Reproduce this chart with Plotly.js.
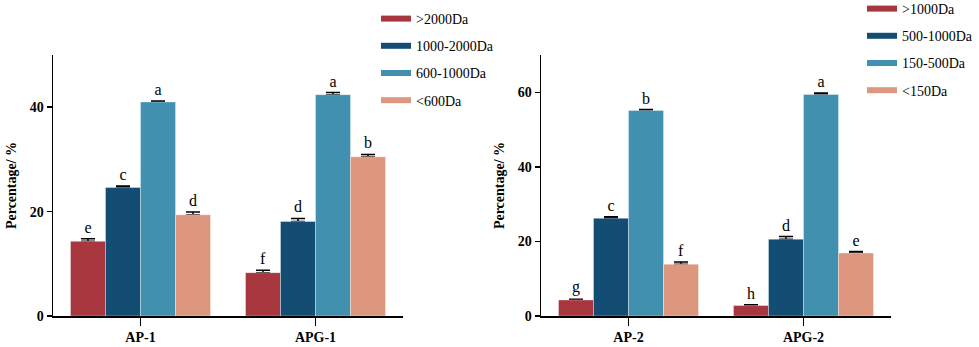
<!DOCTYPE html>
<html>
<head>
<meta charset="utf-8">
<script src="https://cdn.plot.ly/plotly-3.0.1.min.js"></script>
<style>html,body{margin:0;padding:0;background:#fff;}#chart{width:979px;height:347px;}</style>
</head>
<body>
<div id="chart"></div>
<script>
// ---- data ----
const categories1 = ['AP-1', 'APG-1'];
const categories2 = ['AP-2', 'APG-2'];
const seriesNames1 = ['>2000Da', '1000-2000Da', '600-1000Da', '<600Da'];
const seriesNames2 = ['>1000Da', '500-1000Da', '150-500Da', '<150Da'];
const values1 = [[14.3, 8.3], [24.6, 18.1], [41.0, 42.4], [19.4, 30.5]];
const errors1 = [[0.5, 0.45], [0.3, 0.6], [0.2, 0.4], [0.5, 0.45]];
const letters1 = [['e', 'f'], ['c', 'd'], ['a', 'a'], ['d', 'b']];
const values2 = [[4.3, 2.8], [26.2, 20.6], [55.1, 59.4], [13.9, 16.9]];
const errors2 = [[0.2, 0.25], [0.4, 0.7], [0.25, 0.4], [0.6, 0.4]];
const letters2 = [['g', 'h'], ['c', 'd'], ['b', 'a'], ['f', 'e']];
const yTicks1 = [0, 20, 40];
const yTicks2 = [0, 20, 40, 60];

// ---- styles ----
const colors = ['#A8363F', '#134D73', '#4190B0', '#DE977F'];
const serif = 'Liberation Serif, Times New Roman, serif';

const traces = [];
function addPanel(cats, names, vals, errs, lets, xa, ya, legendId, prefix) {
  names.forEach((nm, i) => {
    // error bars (drawn first, partly hidden under the bar)
    traces.push({
      type: 'bar', x: cats, y: vals[i], xaxis: xa, yaxis: ya,
      offsetgroup: prefix + i, showlegend: false, hoverinfo: 'skip',
      marker: { color: 'rgba(0,0,0,0)' },
      error_y: { type: 'data', symmetric: false, array: errs[i], arrayminus: errs[i].map(() => 0),
                 visible: true, color: '#000', thickness: 1.5, width: 7 }
    });
    traces.push({
      type: 'bar', x: cats, y: vals[i], xaxis: xa, yaxis: ya,
      offsetgroup: prefix + i, showlegend: false, hoverinfo: 'skip',
      marker: { color: colors[i], line: { color: 'rgba(255,255,255,0.35)', width: 1 } }
    });
    traces.push({
      type: 'bar', x: cats, y: vals[i].map((v, k) => v + errs[i][k]), xaxis: xa, yaxis: ya,
      offsetgroup: prefix + i, showlegend: false, hoverinfo: 'skip',
      marker: { color: 'rgba(0,0,0,0)', line: { color: 'rgba(0,0,0,0)', width: 6 } },
      text: lets[i], textposition: 'outside', cliponaxis: false,
      textfont: { family: serif, size: 16, color: '#000' }
    });
    traces.push({
      type: 'scatter', mode: 'lines', x: [null], y: [null], xaxis: xa, yaxis: ya,
      name: nm, legend: legendId, legendgroup: prefix + 'g' + i,
      line: { color: colors[i], width: 6 }
    });
  });
}
addPanel(categories1, seriesNames1, values1, errors1, letters1, 'x', 'y', 'legend', 'a');
addPanel(categories2, seriesNames2, values2, errors2, letters2, 'x2', 'y2', 'legend2', 'b');

const yDomain = [31 / 347, 292 / 347];
function xAxis(domain, anchor) {
  return {
    domain: domain, anchor: anchor, type: 'category', range: [-0.5, 1.5],
    showline: true, linecolor: '#000', linewidth: 1.5, ticks: 'outside', ticklen: 8,
    tickwidth: 1.5, tickcolor: '#000', showgrid: false, zeroline: false,
    tickfont: { family: serif, size: 14, color: '#000', weight: 'bold' }, automargin: false
  };
}
function yAxis(anchor, range, ticks) {
  return {
    domain: yDomain, anchor: anchor, range: range, tickvals: ticks,
    showline: true, linecolor: '#000', linewidth: 1.5, ticks: 'outside', ticklen: 5,
    tickwidth: 1.5, tickcolor: '#000', showgrid: false, zeroline: false,
    tickfont: { family: serif, size: 14, color: '#000', weight: 'bold' },
    title: { text: 'Percentage/ %', font: { family: serif, size: 14, color: '#000', weight: 'bold' }, standoff: 10 },
    automargin: false
  };
}
const legendBase = {
  font: { family: serif, size: 14, color: '#000' }, bgcolor: 'rgba(0,0,0,0)',
  traceorder: 'grouped', tracegroupgap: 6, xanchor: 'left', yanchor: 'top', itemclick: false
};
const layout = {
  width: 979, height: 347, margin: { l: 0, r: 0, t: 0, b: 0, autoexpand: false },
  paper_bgcolor: '#fff', plot_bgcolor: '#fff', barmode: 'group', bargap: 0.2, bargroupgap: 0,
  xaxis: xAxis([53 / 979, 403 / 979], 'y'),
  yaxis: yAxis('x', [0, 50], yTicks1),
  xaxis2: xAxis([541 / 979, 891 / 979], 'y2'),
  yaxis2: yAxis('x2', [0, 70], yTicks2),
  legend: Object.assign({}, legendBase, { x: 376 / 979, y: 1 - 3 / 347 }),
  legend2: Object.assign({}, legendBase, { x: 862 / 979, y: 1 + 7 / 347 }),
  showlegend: true
};
Plotly.newPlot('chart', traces, layout, { staticPlot: true, displayModeBar: false });
</script>
</body>
</html>
